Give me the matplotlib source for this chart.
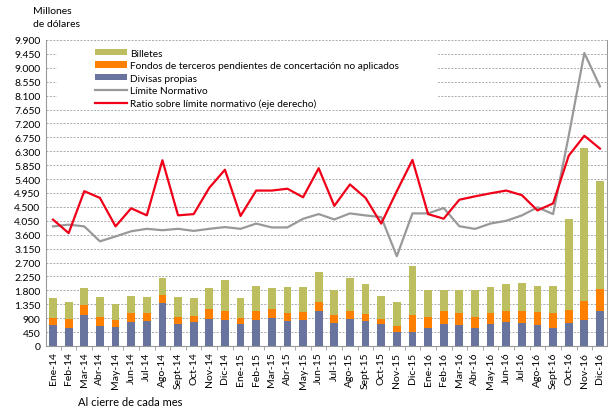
import matplotlib.pyplot as plt
import numpy as np
from matplotlib.patches import Rectangle

plt.rcParams["font.family"] = ["Lato", "DejaVu Sans"]

meses = ["Ene-14", "Feb-14", "Mar-14", "Abr-14", "May-14", "Jun-14", "Jul-14", "Ago-14",
         "Sept-14", "Oct-14", "Nov-14", "Dic-14", "Ene-15", "Feb-15", "Mar-15", "Abr-15",
         "May-15", "Jun-15", "Jul-15", "Ago-15", "Sept-15", "Oct-15", "Nov-15", "Dic-15",
         "Ene-16", "Feb-16", "Mar-16", "Abr-16", "May-16", "Jun-16", "Jul-16", "Ago-16",
         "Sept-16", "Oct-16", "Nov-16", "Dic-16"]

# millones de dólares
divisas = [680, 583, 1015, 648, 616, 778, 810, 1393, 724, 778, 886, 832,
           713, 832, 918, 810, 832, 1123, 745, 886, 810, 713, 454, 454,
           583, 713, 680, 583, 713, 778, 745, 680, 583, 745, 832, 1145]
fondos = [238, 292, 313, 292, 216, 291, 259, 259, 216, 194, 313, 302,
          194, 302, 281, 259, 270, 313, 259, 259, 227, 151, 194, 550,
          357, 421, 389, 357, 356, 356, 389, 422, 486, 421, 626, 691]
billetes = [637, 540, 552, 648, 529, 551, 519, 562, 648, 583, 681, 1004,
            648, 810, 681, 853, 810, 972, 821, 1069, 961, 756, 767, 1576,
            864, 670, 756, 864, 843, 864, 896, 842, 875, 2934, 4942, 3514]
limite = [3870, 3926, 3870, 3386, 3544, 3712, 3791, 3746, 3791, 3724, 3791, 3847,
          3791, 3960, 3836, 3836, 4115, 4268, 4094, 4290, 4224, 4170, 2905, 4290,
          4290, 4464, 3876, 3788, 3963, 4050, 4224, 4486, 4268, 6800, 9480, 8400]
# porcentaje (eje derecho)
ratio = [41.3, 36.9, 50.6, 48.4, 39.1, 45.0, 42.7, 60.7, 42.7, 43.1, 51.7, 57.6,
         42.5, 50.8, 50.8, 51.4, 48.6, 58.1, 45.8, 52.8, 48.4, 40.0, 50.6, 60.8,
         43.1, 41.6, 47.8, 48.9, 49.9, 50.8, 49.3, 44.3, 46.6, 62.2, 68.7, 64.5]

yticks = np.arange(0, 9901, 450)
ytick_labels = [f"{v:,}".replace(",", ".") for v in yticks]

fig = plt.figure(figsize=(6.08, 4.10), dpi=100)
ax = fig.add_axes([46 / 608, 1 - 347 / 410, 561 / 608, 306 / 410])

x = np.arange(len(meses))
w = 0.5
div = np.array(divisas)
fon = np.array(fondos)
bil = np.array(billetes)
b1 = ax.bar(x, div, w, color="#68739e", zorder=2, label="Divisas propias")
b2 = ax.bar(x, fon, w, bottom=div, color="#ff8000", zorder=2,
            label="Fondos de terceros pendientes de concertación no aplicados")
b3 = ax.bar(x, bil, w, bottom=div + fon, color="#bdbe60", zorder=2, label="Billetes")
l1, = ax.plot(x, limite, color="#999999", lw=1.6, zorder=3, label="Límite Normativo")

ax.set_ylim(0, 9900)
ax.set_xlim(-0.45, len(meses) - 0.55)
ax.set_yticks(yticks)
ax.set_yticklabels(ytick_labels, fontsize=7.5)
ax.tick_params(axis="y", length=0, pad=4)
ax.set_xticks(x)
ax.set_xticklabels(meses, rotation=90, fontsize=7.5)
ax.set_xticks(x[:-1] + 0.5, minor=True)
ax.tick_params(axis="x", which="major", length=0, pad=4)
ax.tick_params(axis="x", which="minor", length=3, color="#999999")
ax.grid(axis="y", color="#aaaaaa", linestyle=(0, (2, 1.5)), lw=0.7)
ax.set_axisbelow(True)
ax.spines["top"].set_visible(False)
ax.spines["right"].set_visible(False)
ax.spines["left"].set_color("#999999")
ax.spines["bottom"].set_color("#999999")

# eje derecho: las etiquetas quedan fuera del recorte en el original
ax2 = ax.twinx()
l2, = ax2.plot(x, ratio, color="#f00018", lw=1.6, zorder=4,
               label="Ratio sobre límite normativo (eje derecho)")
ax2.set_ylim(0, 100)
ax2.set_yticks(np.arange(0, 101, 10))
ax2.tick_params(axis="y", length=3, color="#999999", labelright=False)
for s in ["top", "left", "bottom"]:
    ax2.spines[s].set_visible(False)
ax2.spines["right"].set_color("#999999")

# fondo blanco bajo la leyenda
ax.add_patch(Rectangle((11 / 561, 0.77), 0.68, 0.2, transform=ax.transAxes,
                       facecolor="white", edgecolor="none", zorder=1))
leg = ax2.legend(handles=[b3, b2, b1, l1, l2], loc="upper left",
                 bbox_to_anchor=(0.08, 0.985), frameon=False, fontsize=7.3,
                 handlelength=3.2, handleheight=0.6, labelspacing=0.35,
                 handletextpad=0.3, borderaxespad=0)

fig.text(33 / 608, 1 - 18 / 410, "Millones\nde dólares", fontsize=7.5,
         va="center", ha="left", linespacing=1.5)
fig.text(130 / 608, 1 - 403 / 410, "Al cierre de cada mes", fontsize=8,
         va="center", ha="center")

fig.savefig("out.png", dpi=100)
